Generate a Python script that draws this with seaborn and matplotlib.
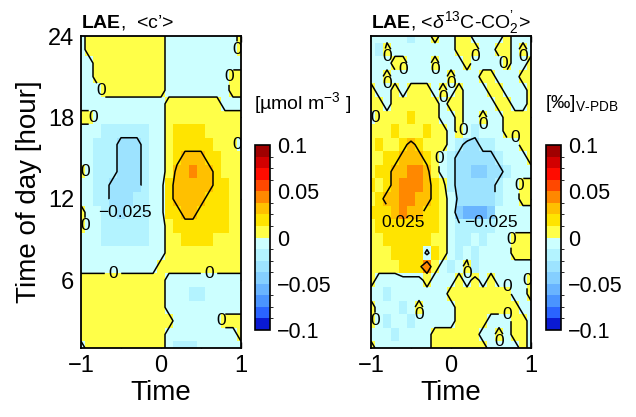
import numpy
import matplotlib
matplotlib.use("Agg")
import matplotlib.pyplot as plt
from matplotlib.colors import ListedColormap, BoundaryNorm
import seaborn

# axes of the grids
time_lag = [-1.0, -0.9, -0.8, -0.7, -0.6, -0.5, -0.4, -0.3, -0.2, -0.1, 0.0,
            0.1, 0.2, 0.3, 0.4, 0.5, 0.6, 0.7, 0.8, 0.9, 1.0]
hours = [24, 23, 22, 21, 20, 19, 18, 17, 16, 15, 14, 13,
         12, 11, 10, 9, 8, 7, 6, 5, 4, 3, 2, 1]

# colour bin of each cell (row = hour, top row is 24)
# bin k>0 covers ((k-1)*0.0125, k*0.0125), bin k<0 the mirror below zero
c_bins = [
    [-1, 1, 1, 1, 1, 1, 1, 1, 1, 1, 1, -1, -1, -1, -1, -1, -1, -1, -1, -1, 1],
    [-1, 1, 1, 1, 1, 1, 1, 1, 1, 1, 1, -1, -1, -1, -1, -1, -1, -1, -1, -1, 1],
    [-1, -1, 1, 1, 1, 1, 1, 1, 1, 1, 1, -1, -1, -1, -1, -1, -1, -1, -1, -1, -1],
    [-1, -1, 1, 1, 1, 1, 1, 1, 1, 1, 1, -1, -1, -1, -1, -1, -1, -1, -1, 1, 1],
    [-1, -1, -1, 1, 1, 1, 1, 1, 1, 1, 1, -1, -1, -1, -1, -1, -1, -1, -1, 1, 1],
    [-1, -1, -1, -1, -1, -1, -1, -1, -1, -1, -1, 1, 1, 1, 1, 1, 1, 1, -1, -1, -1],
    [1, 1, -1, -1, -1, -1, -1, -1, -1, -1, -1, 1, 1, 1, 1, 1, 1, 1, 1, 1, 1],
    [-1, -1, -1, -2, -2, -2, -2, -2, -2, -1, -1, 1, 2, 2, 2, 2, 1, 1, 1, 1, 1],
    [-1, -1, -2, -2, -2, -3, -3, -3, -2, -1, -1, 1, 2, 2, 2, 2, 2, 1, 1, 1, -1],
    [-1, -1, -2, -2, -2, -3, -3, -3, -2, -1, -1, 1, 2, 3, 3, 3, 2, 2, 1, 1, 1],
    [1, -1, -2, -2, -2, -3, -3, -3, -2, -1, -1, 1, 3, 3, 4, 3, 3, 2, 1, 1, 1],
    [-1, -1, -2, -2, -3, -3, -3, -3, -2, -1, -1, 2, 3, 3, 3, 3, 3, 2, 2, 1, 1],
    [-1, -1, -2, -2, -3, -3, -3, -2, -2, -1, -1, 2, 3, 3, 3, 3, 2, 2, 2, 1, 1],
    [1, -1, -1, -2, -2, -3, -2, -2, -2, -1, -1, 2, 2, 3, 3, 2, 2, 2, 2, 1, 1],
    [1, -1, -1, -2, -2, -2, -2, -2, -2, -1, -1, 1, 2, 2, 2, 2, 2, 2, 2, 1, 1],
    [-1, -1, -1, -2, -2, -2, -2, -2, -2, -1, -1, 1, 1, 2, 2, 2, 2, 1, 1, 1, 1],
    [-1, -1, -1, -1, -1, -1, -1, -1, -1, -1, -1, 1, 1, 1, 1, 1, 1, 1, 1, 1, 1],
    [-1, -1, -1, -1, -1, -1, -1, -1, -1, -1, 1, 1, 1, 1, 1, 1, 1, 1, 1, 1, 1],
    [1, 1, 1, 1, 1, 1, 1, 1, 1, 1, 1, -1, -1, -1, -1, -1, -1, -1, -1, -1, -1],
    [1, 1, 1, 1, 1, 1, 1, 1, 1, 1, 1, -1, -1, -1, -2, -2, -1, -1, -1, -1, -1],
    [1, 1, 1, 1, 1, 1, 1, 1, 1, 1, 1, -1, -1, -1, -1, -1, -1, -1, -1, -1, -1],
    [1, 1, 1, 1, 1, 1, 1, 1, 1, 1, 1, 1, -1, -1, -1, -1, -1, -1, 1, 1, 1],
    [1, 1, 1, 1, 1, 1, 1, 1, 1, 1, 1, -1, -1, -1, -1, -1, -1, -1, -1, -1, 1],
    [-1, 1, 1, 1, 1, 1, 1, 1, 1, 1, 1, -1, -2, -2, -2, -1, -1, -1, -1, -1, -1],
]

d13c_bins = [
    [-1, -1, -1, -1, -1, -2, -1, -1, 1, -1, -1, 1, 1, -1, -1, -1, -1, 1, -1, -1, -1],
    [-1, -2, 1, -1, -1, -1, -1, -1, -1, -1, -1, 1, 1, 1, -1, -1, 1, 1, -1, 1, -1],
    [-1, -1, -1, 1, 1, -1, -1, -1, 1, -1, -1, -1, 1, -1, -1, -1, -1, 1, -1, -1, 1],
    [-1, -1, 1, -1, -1, -1, -1, -1, -1, -1, 1, -1, -1, -1, 1, 1, -1, -1, -1, 1, 1],
    [1, -1, -1, 1, -1, 1, 1, 1, -1, 1, -1, 1, -1, -1, -1, 1, 1, -1, -1, -1, 1],
    [1, 1, -1, 1, 1, 1, 1, 1, 1, -1, 1, 1, -1, -1, -1, -1, 1, 1, -1, -1, 1],
    [-1, 1, 1, 1, 1, 2, 1, 1, 1, -1, -1, 1, -1, -1, 1, -1, -1, 1, 1, 1, 1],
    [1, 1, 1, 2, 1, 1, 1, 2, 1, 1, -1, 1, -1, -2, -1, -1, -1, 1, 1, 1, 1],
    [1, 2, 1, 1, 2, 3, 2, 1, 1, 1, -1, -2, -3, -3, -2, -2, -1, -1, -1, 1, 1],
    [1, 1, 2, 2, 3, 3, 3, 2, 1, -1, -2, -3, -3, -3, -3, -3, -2, -1, -1, -1, 1],
    [1, 2, 2, 3, 3, 4, 4, 3, 1, -1, -2, -3, -3, -4, -4, -3, -3, -2, -1, -1, -1],
    [2, 1, 2, 3, 4, 4, 4, 3, 2, 1, -2, -3, -3, -3, -3, -3, -2, -1, -1, 1, 1],
    [1, 2, 3, 3, 4, 4, 3, 3, 2, 1, -1, -3, -3, -3, -3, -3, -2, -1, -1, 1, 1],
    [2, 2, 2, 3, 4, 3, 3, 2, 2, 1, -1, -4, -5, -5, -5, -4, -1, -1, -1, -1, -1],
    [1, 2, 2, 2, 2, 2, 2, 2, 2, 1, -1, -2, -2, -2, -2, -2, -1, -1, -1, -1, -1],
    [1, 1, 2, 2, 2, 2, 2, 2, 1, 1, -1, -2, -2, -1, -2, -1, -1, -1, 1, 1, 1],
    [1, 1, 1, 2, 2, 2, 2, -1, 2, 1, -1, -2, -1, -2, -1, -1, -1, -1, 1, 1, 1],
    [1, 1, 1, 1, 2, 2, 2, 4, 1, -1, -2, -1, 1, -2, -1, -1, -1, -1, -1, -1, -1],
    [1, -1, -1, -1, -1, -1, -1, 1, -1, -1, -1, 1, -1, 1, -1, 1, -1, -1, -1, -1, 1],
    [-1, -1, -2, -1, -1, -1, -1, -1, -1, -1, 1, 1, 1, 1, 1, 1, 1, 1, -1, -1, 1],
    [1, -1, -1, -1, -2, -1, 1, -1, -1, -1, -1, 1, 1, 1, 1, 1, 1, 1, 1, -1, -1],
    [1, -1, -2, -1, -1, -2, -1, -1, -1, -1, -1, 1, 1, 1, 1, -1, -1, -1, 1, 1, -1],
    [-1, -1, -1, -2, -1, -1, -1, -1, 1, 1, 1, 1, 1, 1, -1, -1, 1, -1, 1, 1, -1],
    [1, -1, -1, -1, -1, -1, -1, -1, 1, 1, 1, 1, 1, 1, 1, -1, -1, -1, -1, 1, -1],
]

bin_width = 0.0125
bounds = numpy.linspace(-0.1, 0.1, 17)
colours = ["#0a1ad2", "#2a64ff", "#4a94ff", "#69b4ff", "#85cfff", "#9de3ff", "#b3f3ff", "#ccffff",
           "#ffff48", "#ffe400", "#ffc000", "#ff8800", "#ff4800", "#ff0c00", "#d20000", "#a00000"]
cmap = ListedColormap(colours)
norm = BoundaryNorm(bounds, cmap.N)


def bins_to_values(bins):
    b = numpy.array(bins, dtype=float)
    return numpy.sign(b) * (numpy.abs(b) - 0.5) * bin_width


def col_pos(x):
    return (numpy.asarray(x) - time_lag[0]) / (time_lag[1] - time_lag[0]) + 0.5


def row_pos(h):
    return (hours[0] - numpy.asarray(h)) + 0.5


def label_fmt(v):
    if abs(v) < 1e-9:
        return "0"
    return f"{v:g}".replace("-", "\u2212")


seaborn.set_style("ticks")
plt.rcParams["font.family"] = ["Liberation Sans", "DejaVu Sans"]
plt.rcParams["mathtext.fontset"] = "custom"
plt.rcParams["mathtext.rm"] = "Liberation Sans"
plt.rcParams["mathtext.it"] = "Liberation Sans:italic"
plt.rcParams["mathtext.bf"] = "Liberation Sans:bold"
for key in ["text.color", "axes.labelcolor", "xtick.color", "ytick.color"]:
    plt.rcParams[key] = "black"

fig = plt.figure(figsize=(6.36, 4.17), dpi=100)
W, H = 636, 417
panels = [
    (c_bins, [81, 36, 160, 312], [255, 145, 15, 185], r"$\mathbf{LAE}$,  <c’>",
     r"[µmol m$^{-3}$ ]", 254, [-0.025, 0]),
    (d13c_bins, [371, 36, 160, 312], [546, 145, 15, 185],
     r"$\mathbf{LAE}$, <$\delta^{13}$C-CO$_2^{’}$>", r"[‰]$_{\mathrm{V\text{-}PDB}}$", 545,
     [-0.025, 0, 0.025]),
]

for k, (bins, apos, cpos, title, unit, ux, labelled) in enumerate(panels):
    ax = fig.add_axes([apos[0] / W, 1 - (apos[1] + apos[3]) / H, apos[2] / W, apos[3] / H])
    cax = fig.add_axes([cpos[0] / W, 1 - (cpos[1] + cpos[3]) / H, cpos[2] / W, cpos[3] / H])
    z = bins_to_values(bins)
    seaborn.heatmap(z, ax=ax, cmap=cmap, norm=norm, cbar_ax=cax,
                    xticklabels=False, yticklabels=False)
    xc = col_pos(time_lag)
    yc = row_pos(hours)
    cs = ax.contour(xc, yc, z, levels=[-0.025, 0, 0.025], colors="k",
                    linewidths=1.1, linestyles="solid")
    labels = ax.clabel(cs, levels=labelled, fmt=label_fmt, fontsize=12.5,
                       inline=True, inline_spacing=3)
    for t in labels:
        t.set_rotation(0)
        t.set_color("black")

    ax.set_xlim(col_pos(time_lag[0]), col_pos(time_lag[-1]))
    ax.set_ylim(row_pos(hours[-1]), row_pos(hours[0]))
    for s in ax.spines.values():
        s.set_visible(True)
        s.set_linewidth(1.3)
        s.set_color("k")
    ax.set_xticks(col_pos([-1, -0.5, 0, 0.5, 1]))
    ax.set_xticklabels(["\u22121", "", "0", "", "1"], fontsize=17)
    ax.set_yticks(row_pos([6, 12, 18, 24]))
    if k == 0:
        ax.set_yticklabels(["6", "12", "18", "24"], fontsize=17)
        ax.set_ylabel("Time of day [hour]", fontsize=20, labelpad=4)
    else:
        ax.set_yticklabels([])
    ax.tick_params(direction="in", top=True, right=True, bottom=True, left=True,
                   length=4, width=1, colors="k", pad=5)
    ax.set_xlabel("Time", fontsize=20, labelpad=2)
    ax.set_title(title, loc="left", fontsize=14, pad=6, color="black")

    cb = ax.collections[0].colorbar
    cb.set_ticks([-0.1, -0.05, 0, 0.05, 0.1])
    cb.set_ticklabels(["\u22120.1", "\u22120.05", "0", "0.05", "0.1"])
    cb.outline.set_linewidth(1.2)
    cb.outline.set_edgecolor("k")
    cax.tick_params(labelsize=15.5, length=0, pad=5, colors="k")
    fig.text(ux / W, 1 - 103 / H, unit, fontsize=14, va="center", ha="left", color="black")

fig.savefig("out.png", dpi=100)
